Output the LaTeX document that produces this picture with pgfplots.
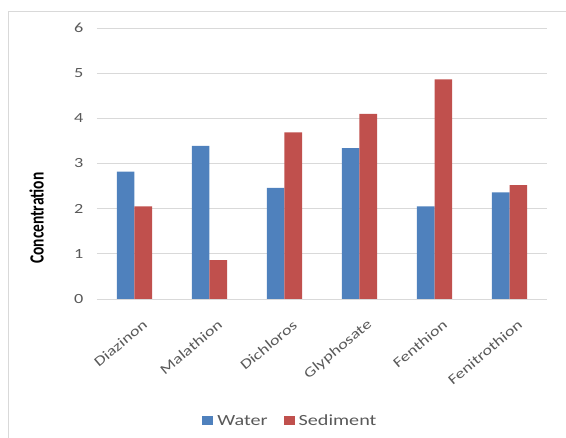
\documentclass[border=0pt]{standalone}
\usepackage{fontspec}
\setmainfont{Carlito}[FakeStretch=1.3]
\newfontfamily\plainfont{Carlito}
\usepackage{graphicx}
\usepackage{pgfplots}
\pgfplotsset{compat=1.18}

\definecolor{waterblue}{HTML}{4F81BD}
\definecolor{sedred}{HTML}{C0504D}
\definecolor{gridgray}{HTML}{D9D9D9}
\definecolor{labelgray}{HTML}{595959}

\begin{document}
\begin{tikzpicture}[x=1pt,y=1pt]
  \path[use as bounding box] (0,0) rectangle (566,438);
  % chart frame
  \draw[gridgray, line width=0.8pt] (8,0) -- (8,427) -- (566,427);

  \begin{axis}[
    at={(97pt,139pt)}, anchor=south west,
    scale only axis,
    width=450pt, height=271pt,
    ybar=0pt, bar width=17.7pt,
    xmin=-0.5, xmax=5.5,
    ymin=0, ymax=6,
    ytick={0,1,2,3,4,5,6},
    xtick=data,
    xticklabels={Diazinon,Malathion,Dichloros,Glyphosate,Fenthion,Fenitrothion},
    xticklabel style={rotate=40, anchor=east, inner sep=0pt, xshift=-7pt, yshift=-25pt,
      font=\fontsize{14}{16}\selectfont, text=labelgray},
    yticklabel style={font=\fontsize{14}{16}\selectfont, text=labelgray, xshift=-10pt},
    /pgf/number format/assume math mode=true,
    major tick length=0pt,
    ymajorgrids, grid style={gridgray, line width=0.9pt},
    axis x line*=bottom, axis y line*=left,
    x axis line style={gridgray, line width=0.9pt},
    y axis line style={draw=none},
    ylabel={\scalebox{1}[1.3]{\plainfont\bfseries\fontsize{15.5}{17}\selectfont Concentration}},
    every axis y label/.style={at={(axis description cs:-0.134,0.298)}, rotate=90, anchor=center},
    legend columns=2,
    legend style={at={(axis description cs:0.432,-0.45)}, anchor=center, draw=none,
      font=\fontsize{15.5}{17}\selectfont, text=labelgray,
      nodes={inner xsep=4pt},
      /tikz/every even column/.append style={column sep=12pt}},
    legend image code/.code={\fill[#1] (0pt,-4.5pt) rectangle (11pt,5pt);},
    clip=false,
  ]
    \addplot[fill=waterblue, draw=none] coordinates {(0,2.82) (1,3.39) (2,2.46) (3,3.34) (4,2.05) (5,2.36)};
    \addplot[fill=sedred, draw=none] coordinates {(0,2.05) (1,0.86) (2,3.69) (3,4.10) (4,4.86) (5,2.52)};
    \legend{Water,Sediment}
  \end{axis}
\end{tikzpicture}
\end{document}
